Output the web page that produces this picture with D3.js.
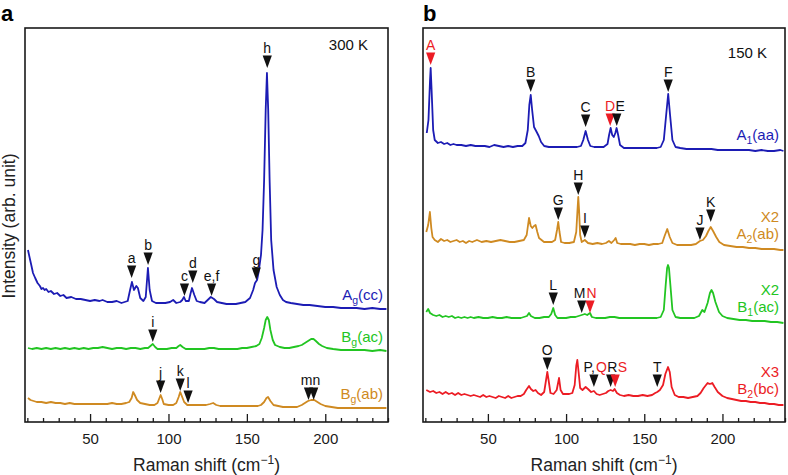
<!DOCTYPE html>
<html><head><meta charset="utf-8">
<script src="https://cdn.jsdelivr.net/npm/d3@7"></script>
<style>body{margin:0;background:#fff}text{font-family:"Liberation Sans",Arial,Helvetica,sans-serif}</style>
</head><body><svg id="c" width="788" height="475"></svg>
<script>
// ---------- data ----------
const xDomain = [8.5, 240];
const yDomain = [0, 394];
const majorTicks = [50, 100, 150, 200];
const minorTicks = [10,20,30,40,60,70,80,90,110,120,130,140,160,170,180,190,210,220,230,240];
const xTitle = "Raman shift (cm";
const yTitle = "Intensity (arb. unit)";
const tempA = "300 K", tempB = "150 K";

// Panel a, 300 K  [Raman shift, intensity (arb.)]
const agCC = [[10.4,172],[11.5,164],[12.5,157],[13.6,149],[15,144],[16.5,139],[18,136],[19,133],[20,134],[21,132],[22,133],[23.5,130],[25,131],[27,128],[29,129],[31,126],[33,127],[35,124],[38,125],[41,123],[44,123],[47,122],[50,121],[53,122],[56,121],[58,122],[61,120],[64,120],[67,121],[70,119],[72,120],[74,121],[75.5,132],[76.7,140],[78,132],[79.5,136],[80.5,134],[82,124],[84,121],[85.5,125],[86.9,154],[88,132],[89.5,121],[92,119],[95,119],[98,119],[101,120],[103,122],[105,119],[107.5,120],[108.8,122],[109.9,125],[111,121],[113,121],[114,128],[115,134],[116.5,127],[118,121],[120,120],[123,119],[125,122],[127,125],[129,123],[131,120],[134,119],[137,118],[140,118],[143,118],[146,119],[149,120],[152,124],[154,132],[155.2,139],[156.5,142],[157.5,150],[159,167],[160,192],[161,242],[162,312],[162.8,349],[163.6,312],[164.5,242],[165.5,182],[167,152],[169,135],[171,127],[173,122],[175,120],[178,119],[182,118],[186,117],[190,117],[195,116],[200,115],[205,115],[210,114],[215,114],[220,114],[225,113],[230,114],[235,113],[239,113]];
const bgAC = [[10.4,74],[13,73],[16,74],[19,73],[22,74],[25,73],[28,74],[31,73],[34,74],[37,73],[40,74],[43,73],[46,74],[49,73],[52,74],[55,74],[58,75],[61,74],[64,73],[67,74],[70,74],[73,73],[76,74],[79,74],[82,73],[85,74],[87,74],[88.5,76],[90,78],[91.5,75],[93,73],[96,73],[99,73],[102,74],[105,74],[106.5,76],[107.5,77],[109,75],[111,73],[114,73],[117,73],[120,73],[123,73],[126,74],[129,74],[132,73],[135,73],[138,73],[141,73],[144,73],[147,74],[150,74],[153,75],[156,76],[158,78],[159.5,84],[161,94],[162,102],[163,105],[164,102],[165,92],[166.5,82],[168,77],[171,75],[174,74],[177,74],[180,75],[183,76],[185,77],[187,79],[189,81],[191,83],[192.5,83],[194,81],[196,78],[198,76],[201,74],[205,73],[210,72],[215,72],[220,72],[225,72],[230,71],[235,72],[239,71]];
const bgAB = [[10.4,24],[12,22],[14,21],[16,20],[19,20],[22,19],[25,20],[28,19],[31,19],[34,18],[37,19],[40,18],[43,18],[46,18],[49,18],[52,18],[55,18],[58,18],[61,18],[64,19],[67,18],[70,18],[73,19],[75,20],[76.5,24],[77.5,30],[78.5,27],[80,22],[82,19],[85,18],[88,17],[91,17],[93,19],[94,23],[95,27],[96,23],[97,18],[100,17],[103,17],[105,19],[106.5,25],[107.5,30],[108.5,26],[110,20],[112,17],[115,17],[118,17],[121,17],[124,17],[126.5,18],[128.5,19],[130.5,17],[133,16],[136,16],[139,16],[142,16],[145,16],[148,16],[151,16],[154,16],[157,16],[159,17],[161,20],[162.5,24],[163.5,25],[165,21],[167,17],[170,16],[173,15],[176,15],[179,15],[182,15],[185,17],[187,19],[189,21],[191,22],[193,22],[195,20],[197,18],[200,16],[204,15],[208,14],[212,14],[216,14],[220,14],[225,14],[230,14],[235,14],[239,14]];

// Panel b, 150 K
const a1AA = [[10.9,289],[12,302],[13,342],[13.4,354],[14,332],[15,292],[16,282],[18,279],[20,280],[22,278],[24,279],[26,277],[28,278],[30,277],[33,277],[36,276],[39,277],[42,276],[45,276],[48,276],[51,275],[54,277],[57,276],[60,275],[63,276],[66,275],[69,276],[72,276],[74,279],[75.5,292],[76.5,317],[77.4,327],[78.3,312],[79.5,295],[81.2,290],[82.5,286],[84,280],[86,276],[89,275],[92,275],[95,275],[98,275],[101,275],[104,275],[107,275],[109.5,276],[111,282],[112.5,291],[114,282],[115.5,276],[118,275],[121,275],[124,275],[126.5,278],[127.5,287],[128.5,294],[129.5,287],[130.5,285],[131.5,289],[132.3,294],[133.3,287],[134.5,277],[137,274],[140,274],[143,274],[146,274],[149,274],[152,274],[155,274],[158,274],[160.5,275],[162.5,282],[164,307],[165.3,328],[166.5,307],[168,282],[170,275],[173,274],[177,273],[181,273],[185,273],[189,273],[193,273],[197,272],[201,272],[205,272],[209,272],[213,272],[217,272],[221,271],[225,272],[229,271],[233,271],[237,272],[239,271]];
const a2AB = [[10.6,190],[11.8,197],[12.9,210],[13.8,194],[14.6,185],[16,182],[18,180],[20,183],[22,181],[24,182],[26,180],[28,181],[30,182],[32,180],[34,181],[36,179],[38,181],[40,180],[43,182],[46,180],[49,181],[52,180],[55,181],[58,182],[61,181],[64,180],[67,180],[70,181],[73,182],[74.8,187],[76.3,204],[77.4,196],[78.4,194],[79.5,196],[80.5,197],[81.6,190],[82.7,184],[85.9,180],[88,180],[91,180],[93,182],[94.2,192],[95,200],[95.8,190],[96.8,180],[99,179],[102,179],[105,180],[106.5,190],[107.3,212],[107.8,225],[108.3,212],[109,187],[110,180],[112,182],[114,179],[117,178],[120,179],[123,178],[125.5,179],[127.4,181],[129,179],[130.8,182],[131.7,184],[132.7,179],[135,178],[138,178],[141,178],[144,177],[147,178],[150,178],[153,177],[156,178],[159,178],[161.5,179],[163,186],[164.7,193],[166.3,185],[168,179],[171,177],[174,177],[177,177],[180,177],[183,178],[185.6,181],[187.5,182],[189.5,186],[191,191],[192.5,195],[194,191],[196,185],[198,180],[201,177],[205,176],[209,175],[213,175],[217,174],[221,174],[225,173],[229,173],[233,173],[237,172],[239,172]];
const b1AC = [[10.6,110],[11.8,113],[13,109],[15,107],[17,106],[19,107],[21,105],[23,106],[25,105],[27,106],[29,104],[31,105],[33,104],[35,105],[37,104],[39,105],[41,104],[44,105],[47,104],[50,104],[53,105],[56,104],[59,104],[62,105],[65,104],[68,104],[71,104],[73,105],[75,106],[76.3,109],[77.5,106],[80,104],[83,104],[86,105],[89,105],[90.5,108],[91.8,114],[93,107],[94.5,104],[97,104],[100,104],[103,105],[106,105],[108,106],[110,107],[112,108],[113.5,107],[115.3,109],[116.5,105],[119,104],[122,104],[125,104],[128,105],[131,105],[134,104],[137,104],[140,104],[143,104],[146,104],[149,104],[152,104],[155,104],[158,104],[160.5,105],[162.5,112],[163.7,137],[164.6,154],[165.2,157],[165.8,154],[166.7,137],[168,112],[170,105],[173,104],[176,104],[179,104],[182,104],[185,106],[187.1,112],[188.5,110],[190.5,119],[192,129],[193,132],[194,129],[195.5,120],[197.8,110],[200,106],[203,104],[207,103],[211,102],[215,102],[219,101],[223,101],[227,101],[231,100],[235,100],[239,99]];
const b2BC = [[10.6,32],[13,30],[15,31],[17,29],[19,30],[21,28],[23,30],[25,28],[27,29],[29,27],[31,29],[33,27],[35,28],[37,27],[39,26],[41,27],[43,26],[45,25],[47,27],[49,25],[51,26],[53,25],[55,24],[57,26],[59,25],[61,24],[63,26],[65,24],[67,25],[69,26],[71,26],[73,28],[74.5,32],[76.3,36],[77.5,33],[79,31],[80.5,32],[82,29],[84,27],[86,30],[87.2,42],[88,50],[88.8,42],[90,29],[92,28],[94,32],[95.5,44],[96.5,32],[98,28],[100,28],[102,28],[104,29],[105.5,37],[106.5,56],[107.2,62],[108,50],[109,34],[110.5,32],[112.5,35],[114,33],[116,30],[117.8,31],[119.5,28],[121.5,27],[123.5,28],[125.5,29],[127,31],[128.5,32],[130,31],[131,33],[132.5,29],[134.5,27],[137,26],[140,27],[143,26],[146,26],[149,27],[152,26],[155,27],[157,29],[158.3,30],[160,32],[162,37],[163.5,48],[165.2,55],[166.3,50],[167.5,35],[169.5,27],[172,25],[175,25],[178,24],[181,25],[184,26],[186,29],[188,34],[189.5,37],[190.5,39],[192,38],[193.5,39],[195,35],[197,30],[200,26],[203,24],[206,23],[209,22],[212,21],[215,21],[218,20],[221,20],[224,19],[227,19],[230,18],[233,18],[236,17],[239,17]];

// series meta
const seriesA = [
  {data: agCC, color: "blue",   main: "A", sub: "g", suf: "(cc)", mult: ""},
  {data: bgAC, color: "green",  main: "B", sub: "g", suf: "(ac)", mult: ""},
  {data: bgAB, color: "orange", main: "B", sub: "g", suf: "(ab)", mult: ""}
];
const seriesB = [
  {data: a1AA, color: "blue",   main: "A", sub: "1", suf: "(aa)", mult: ""},
  {data: a2AB, color: "orange", main: "A", sub: "2", suf: "(ab)", mult: "X2"},
  {data: b1AC, color: "green",  main: "B", sub: "1", suf: "(ac)", mult: "X2"},
  {data: b2BC, color: "red",    main: "B", sub: "2", suf: "(bc)", mult: "X3"}
];

// mode markers: x = shift, lv = intensity at tip, lx = label shift (if differs)
const markersA = [
  {t:"a", x:76.5, lv:144}, {t:"b", x:87, lv:157}, {t:"c", x:110.2, lv:126},
  {t:"d", x:115.5, lv:139}, {t:"e,f", x:127.5, lv:126}, {t:"g", x:156, lv:142},
  {t:"h", x:163, lv:354}, {t:"i", x:90, lv:80}, {t:"j", x:95, lv:29},
  {t:"k", x:107.5, lv:31}, {t:"l", x:112.5, lv:19},
  {t:"mn", x:189.3, lv:22, lx:190.6}, {t:"", x:192.6, lv:22}
];
const markersB = [
  {t:"A", x:13.4, lv:357, red:true}, {t:"B", x:77.4, lv:330}, {t:"C", x:112.5, lv:295},
  {t:"D", x:128.2, lv:296, red:true}, {t:"E", x:132.4, lv:296, lx:134.6}, {t:"F", x:165.3, lv:330},
  {t:"G", x:95, lv:202}, {t:"H", x:107.8, lv:227}, {t:"I", x:112, lv:184},
  {t:"J", x:185.6, lv:182}, {t:"K", x:192.5, lv:200},
  {t:"L", x:91.8, lv:117}, {t:"M", x:110, lv:109, lx:108.6}, {t:"N", x:115.3, lv:109, lx:116.3, red:true},
  {t:"O", x:88, lv:52}, {t:"P,", x:117.8, lv:35, lx:114.8}, {t:"Q", x:null, lv:35, lx:122.6, red:true},
  {t:"R", x:128.5, lv:35, lx:129.6}, {t:"S", x:131.4, lv:35, lx:136, red:true}, {t:"T", x:158.3, lv:35}
];

// ---------- style ----------
const palette = {blue:"#1c1cb4", green:"#22c522", orange:"#cf8a22", red:"#ec1c24"};
const svg = d3.select("#c");

function drawPanel(cfg) {
  const x = d3.scaleLinear().domain(xDomain).range([cfg.left, cfg.right]);
  const y = d3.scaleLinear().domain(yDomain).range([422, 28]);
  const g = svg.append("g");
  const clipId = "clip" + cfg.name;
  svg.append("clipPath").attr("id", clipId).append("rect")
    .attr("x", cfg.left).attr("y", 28).attr("width", cfg.right - cfg.left).attr("height", 394);

  // axes (ticks pointing inward)
  g.append("g").attr("transform", "translate(0,422)")
    .call(d3.axisBottom(x).tickValues(minorTicks).tickSize(-4).tickFormat(""))
    .call(s => { s.select(".domain").remove(); s.selectAll("line").attr("stroke", "#1a1a1a").attr("stroke-width", 1.3); });
  g.append("g").attr("transform", "translate(0,422)")
    .call(d3.axisBottom(x).tickValues(majorTicks).tickSize(-8).tickPadding(11).tickFormat(d3.format("d")))
    .call(s => {
      s.select(".domain").remove();
      s.selectAll("line").attr("stroke", "#1a1a1a").attr("stroke-width", 1.3);
      s.selectAll("text").attr("font-size", 15).attr("fill", "#1a1a1a")
        .attr("font-family", '"Liberation Sans",Arial,sans-serif');
    });

  // curves
  const line = d3.line().x(d => x(d[0])).y(d => y(d[1]));
  cfg.series.forEach(s => {
    g.append("path").datum(s.data).attr("d", line)
      .attr("fill", "none").attr("stroke", palette[s.color])
      .attr("stroke-width", 1.8).attr("stroke-linejoin", "round")
      .attr("clip-path", `url(#${clipId})`);
    const last = s.data[s.data.length - 1];
    const ly = y(last[1]) - cfg.labelGap;
    const t = g.append("text").attr("x", cfg.right - cfg.labelInset).attr("y", ly)
      .attr("text-anchor", "end").attr("font-size", 15).attr("fill", palette[s.color]);
    t.append("tspan").text(s.main);
    t.append("tspan").text(s.sub).attr("font-size", 10.5).attr("dy", 4);
    t.append("tspan").text(s.suf).attr("dy", -4);
    if (s.mult) {
      g.append("text").attr("x", cfg.right - cfg.labelInset).attr("y", ly - 17)
        .attr("text-anchor", "end").attr("font-size", 15).attr("fill", palette[s.color]).text(s.mult);
    }
  });

  // markers
  const tw = 4.6, th = 12.5;
  cfg.markers.forEach(m => {
    const tipY = y(m.lv);
    const col = m.red ? palette.red : "#111";
    if (m.x !== null) {
      const cx = x(m.x);
      g.append("path").attr("d", `M${cx - tw},${tipY - th}L${cx + tw},${tipY - th}L${cx},${tipY}Z`).attr("fill", col);
    }
    if (m.t) {
      g.append("text").attr("x", x(m.lx != null ? m.lx : m.x)).attr("y", tipY - th - 3)
        .attr("text-anchor", "middle").attr("font-size", 14).attr("fill", col).text(m.t);
    }
  });

  // frame
  g.append("rect").attr("x", cfg.left).attr("y", 28).attr("width", cfg.right - cfg.left).attr("height", 394)
    .attr("fill", "none").attr("stroke", "#1a1a1a").attr("stroke-width", 1.6);

  // temperature
  g.append("text").attr("x", cfg.tempX).attr("y", cfg.tempY).attr("text-anchor", "end")
    .attr("font-size", 15).attr("fill", "#111").text(cfg.temp);

  // x title
  const xt = g.append("text").attr("x", (cfg.left + cfg.right) / 2).attr("y", 471)
    .attr("text-anchor", "middle").attr("font-size", 17.5).attr("fill", "#222");
  xt.append("tspan").text(xTitle);
  xt.append("tspan").text("\u22121").attr("font-size", 12).attr("dy", -7);
  xt.append("tspan").text(")").attr("dy", 7);

  // panel letter
  g.append("text").attr("x", cfg.letterX).attr("y", 21).attr("font-size", 22)
    .attr("font-weight", "bold").attr("fill", "#000").text(cfg.name);
}

drawPanel({name: "a", left: 25, right: 388, series: seriesA, markers: markersA,
  labelGap: 9, labelInset: 5, temp: tempA, tempX: 368, tempY: 50, letterX: 1});
drawPanel({name: "b", left: 423, right: 785, series: seriesB, markers: markersB,
  labelGap: 11, labelInset: 6, temp: tempB, tempX: 767, tempY: 58, letterX: 423});

// y title
svg.append("text").attr("transform", "translate(15,226) rotate(-90)")
  .attr("text-anchor", "middle").attr("font-size", 17.5).attr("fill", "#222").text(yTitle);
</script>
</body></html>
